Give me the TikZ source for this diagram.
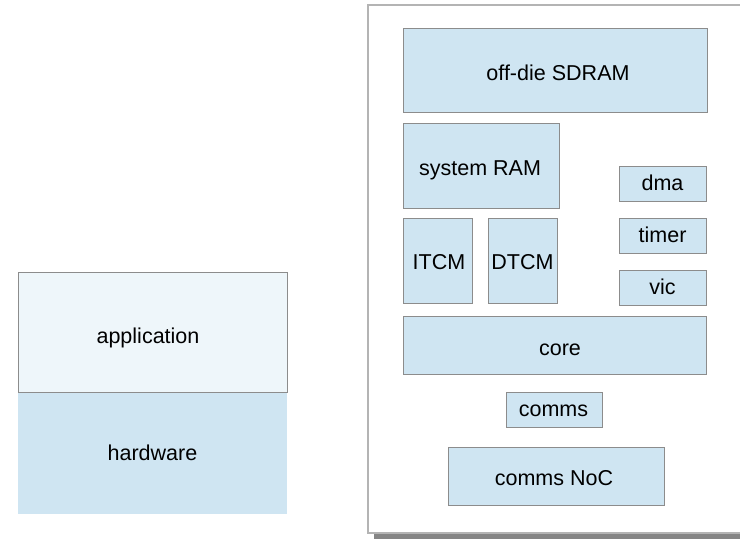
\documentclass[tikz,border=0pt]{standalone}
\usepackage{fontspec}
\setmainfont{Liberation Sans}
\definecolor{boxfill}{HTML}{CFE5F2}
\definecolor{appfill}{HTML}{EEF6FA}
\definecolor{boxline}{HTML}{8C8C8C}
\definecolor{frameline}{HTML}{B4B4B4}
\definecolor{shadowgrey}{HTML}{858585}
\begin{document}
\begin{tikzpicture}[x=1bp,y=-1bp,
  block/.style={draw=boxline, line width=0.9bp, fill=boxfill},
  lbl/.style={font=\fontsize{21.6}{26}\selectfont, inner sep=0pt, anchor=base}]
\useasboundingbox (0,0) rectangle (740,539);
% software/hardware stack
\fill[appfill] (18,272) rectangle (287,392);
\fill[boxfill] (18,392) rectangle (287,514);
\draw[boxline, line width=0.9bp] (18,392) -- (18,272) -- (287,272) -- (287,392) -- cycle;
\node[lbl] (app) at (148,343) {application};
\node[lbl] (hw) at (152.5,460) {hardware};
% chip frame with drop shadow
\fill[shadowgrey] (374,533.5) rectangle (745,538.5);
\draw[frameline, line width=1.4bp] (745,5) -- (368,5) -- (368,533) -- (745,533);
% chip blocks
\draw[block] (403,28) rectangle (707,112);
\node[lbl] (sdram) at (558,80.5) {off-die SDRAM};
\draw[block] (403,123) rectangle (559,208);
\node[lbl] (sysram) at (480,176) {system RAM};
\draw[block] (619,166) rectangle (706,201);
\node[lbl] (dma) at (662.5,190.7) {dma};
\draw[block] (619,218) rectangle (706,253);
\node[lbl] (timer) at (662.5,242.7) {timer};
\draw[block] (619,270) rectangle (706,305);
\node[lbl] (vic) at (662.5,294.3) {vic};
\draw[block] (403,218) rectangle (472,303);
\node[lbl] (itcm) at (439,269.3) {ITCM};
\draw[block] (488,218) rectangle (557,303);
\node[lbl] (dtcm) at (522.5,269.3) {DTCM};
\draw[block] (403,316) rectangle (706,374);
\node[lbl] (core) at (560,355) {core};
\draw[block] (506,392) rectangle (602,427);
\node[lbl] (comms) at (553.5,416) {comms};
\draw[block] (448,447) rectangle (664,505);
\node[lbl] (noc) at (554,485.7) {comms NoC};
\end{tikzpicture}
\end{document}
